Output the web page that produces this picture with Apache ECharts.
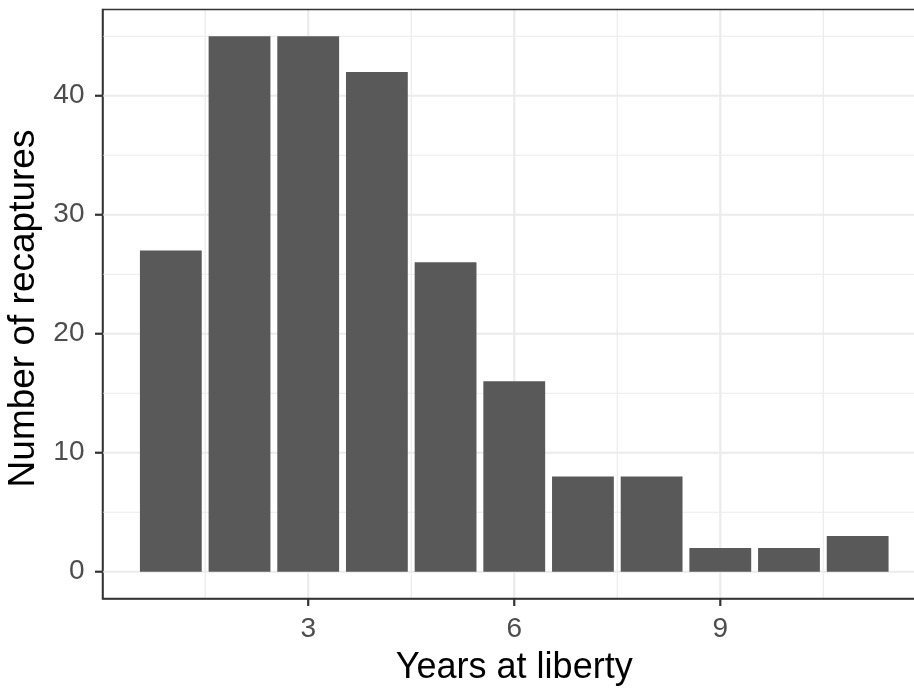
<!DOCTYPE html>
<html>
<head>
<meta charset="utf-8">
<script src="https://cdn.jsdelivr.net/npm/echarts@6/dist/echarts.min.js"></script>
<style>
  html, body { margin: 0; padding: 0; background: #ffffff; }
  #chart { width: 914px; height: 690px; }
</style>
</head>
<body>
<div id="chart"></div>
<script>
// Recaptures by number of years at liberty
const years = [1, 2, 3, 4, 5, 6, 7, 8, 9, 10, 11];
const recaptures = [27, 45, 45, 42, 26, 16, 8, 8, 2, 2, 3];

// Axis breaks
const xTicks = [3, 6, 9];
const xMinor = [1.5, 4.5, 7.5, 10.5];
const yTicks = [0, 10, 20, 30, 40];
const yMinor = [5, 15, 25, 35, 45];

// Axis limits (bar extent padded by 5%)
const xMin = 0.005, xMax = 11.995;
const yMin = -2.25, yMax = 47.25;

const barHalf = 0.45;
const tickLen = 7.5;
const font = "'Liberation Sans', Arial, sans-serif";

// grid line records: [axis (0 = x, 1 = y), value, major flag]
const gridLines = [];
xMinor.forEach(v => gridLines.push([0, v, 0]));
yMinor.forEach(v => gridLines.push([1, v, 0]));
xTicks.forEach(v => gridLines.push([0, v, 1]));
yTicks.forEach(v => gridLines.push([1, v, 1]));

// tick mark records: [axis, value]
const tickMarks = [];
xTicks.forEach(v => tickMarks.push([0, v]));
yTicks.forEach(v => tickMarks.push([1, v]));

const chart = echarts.init(document.getElementById('chart'), null, { renderer: 'canvas' });

const axisLine = { show: true, onZero: false, lineStyle: { color: '#333333', width: 1.5 } };

chart.setOption({
  animation: false,
  backgroundColor: '#ffffff',
  grid: {
    left: 102.5,
    width: 823.5,
    top: 9.5,
    height: 589,
    outerBoundsMode: 'none',
    containLabel: false,
    show: true,
    backgroundColor: 'transparent',
    borderColor: '#333333',
    borderWidth: 1.5,
    z: 10
  },
  xAxis: {
    type: 'value',
    min: xMin,
    max: xMax,
    axisLine: axisLine,
    splitLine: { show: false },
    axisTick: { show: false },
    axisLabel: {
      customValues: xTicks,
      color: '#4d4d4d', fontSize: 28, fontFamily: font, margin: 17
    },
    name: 'Years at liberty',
    nameLocation: 'middle',
    nameGap: 52,
    nameTextStyle: { color: '#000000', fontSize: 36, fontFamily: font }
  },
  yAxis: {
    type: 'value',
    min: yMin,
    max: yMax,
    axisLine: axisLine,
    splitLine: { show: false },
    axisTick: { show: false },
    axisLabel: {
      customValues: yTicks,
      color: '#4d4d4d', fontSize: 28, fontFamily: font, margin: 18
    },
    name: 'Number of recaptures',
    nameLocation: 'middle',
    nameRotate: 90,
    nameGap: 55,
    nameTextStyle: { color: '#000000', fontSize: 37, fontFamily: font, padding: [0, 9, 0, 0] }
  },
  series: [
    {
      // panel grid lines
      type: 'custom',
      silent: true,
      clip: true,
      z: 1,
      data: gridLines,
      encode: { x: 1, y: 1 },
      renderItem: function (params, api) {
        const cs = params.coordSys;
        const axis = api.value(0);
        const v = api.value(1);
        const major = api.value(2) === 1;
        const style = { stroke: '#ebebeb', lineWidth: major ? 2.2 : 1.2 };
        if (axis === 0) {
          const px = api.coord([v, 0])[0];
          return { type: 'line', shape: { x1: px, y1: cs.y, x2: px, y2: cs.y + cs.height }, style: style };
        }
        const py = api.coord([xMin, v])[1];
        return { type: 'line', shape: { x1: cs.x, y1: py, x2: cs.x + cs.width, y2: py }, style: style };
      }
    },
    {
      // bars of width 0.9 centred on each year
      type: 'custom',
      silent: true,
      z: 2,
      data: years.map((y, i) => [y, recaptures[i]]),
      encode: { x: 0, y: 1 },
      renderItem: function (params, api) {
        const x = api.value(0);
        const n = api.value(1);
        const p0 = api.coord([x - barHalf, n]);
        const p1 = api.coord([x + barHalf, 0]);
        return {
          type: 'rect',
          shape: { x: p0[0], y: p0[1], width: p1[0] - p0[0], height: p1[1] - p0[1] },
          style: { fill: '#595959' }
        };
      }
    },
    {
      // outward tick marks on the bottom and left panel edges
      type: 'custom',
      silent: true,
      clip: false,
      z: 11,
      data: tickMarks,
      encode: { x: 1, y: 1 },
      renderItem: function (params, api) {
        const cs = params.coordSys;
        const axis = api.value(0);
        const v = api.value(1);
        const style = { stroke: '#333333', lineWidth: 2.2 };
        if (axis === 0) {
          const px = api.coord([v, 0])[0];
          const y0 = cs.y + cs.height;
          return { type: 'line', shape: { x1: px, y1: y0, x2: px, y2: y0 + tickLen }, style: style };
        }
        const py = api.coord([xMin, v])[1];
        return { type: 'line', shape: { x1: cs.x - tickLen, y1: py, x2: cs.x, y2: py }, style: style };
      }
    }
  ]
});
</script>
</body>
</html>
